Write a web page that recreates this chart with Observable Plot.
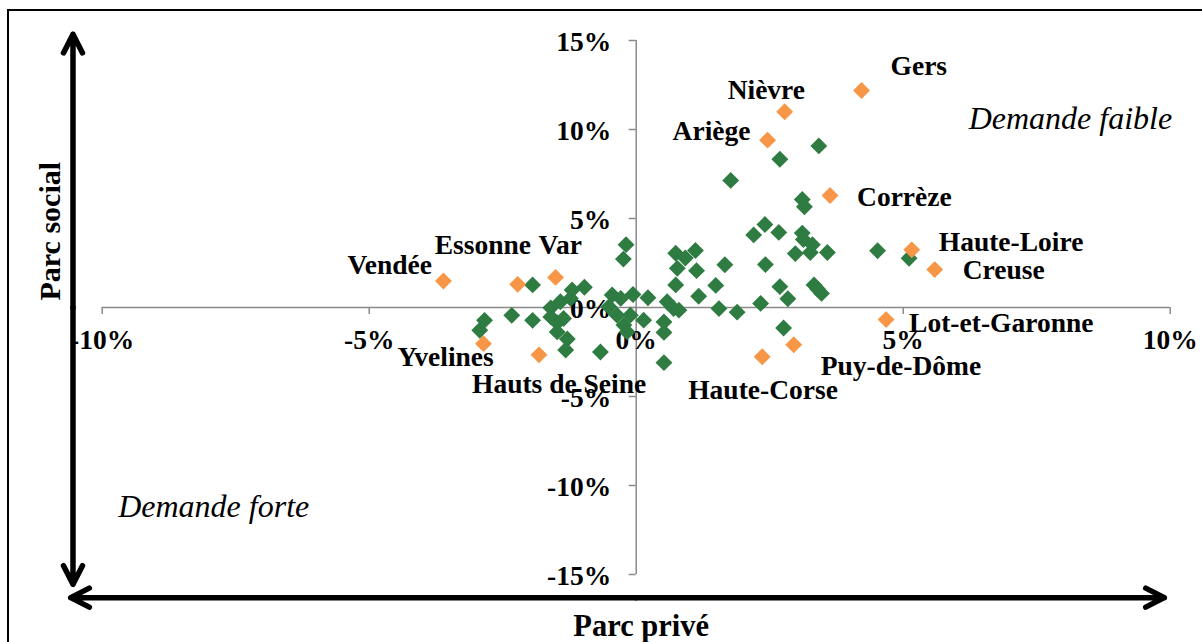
<!DOCTYPE html>
<html><head><meta charset="utf-8">
<script src="https://cdn.jsdelivr.net/npm/d3@7"></script>
<script src="https://cdn.jsdelivr.net/npm/@observablehq/plot@0.6"></script>
<style>
html,body{margin:0;padding:0;background:#fff;overflow:hidden;width:1202px;height:642px;}
#chart{position:absolute;left:0;top:0;}
#frame{position:absolute;left:7px;top:9px;width:1300px;height:700px;border-top:2px solid #000;border-left:2px solid #000;pointer-events:none;}
</style></head><body>
<div id="chart"></div>
<div id="frame"></div>
<script>
// Départements (unlabelled): [parc privé %, parc social %]
const greenPoints = [
  [-1.94,1.27],[-1.20,0.98],[-0.97,1.14],[-1.23,0.51],[-1.42,0.32],[-1.60,-0.02],[-2.33,-0.44],[-1.94,-0.72],
  [-2.84,-0.72],[-2.93,-1.28],[-1.60,-0.53],[-1.48,-0.86],[-1.36,-0.62],[-1.48,-1.37],[-1.29,-1.77],[-1.32,-2.39],
  [-0.67,-2.50],[-0.19,3.53],[-0.24,2.72],[-0.45,0.70],[-0.06,0.73],[-0.51,0.04],[-0.36,-0.43],[-0.23,-0.99],
  [-0.17,-1.37],[-0.11,-0.43],[-0.29,0.51],[0.14,-0.71],[0.22,0.55],[0.52,-3.10],
  [0.74,3.05],[1.11,3.20],[0.92,2.78],[0.77,2.20],[1.13,2.07],[1.66,2.40],[2.20,4.08],[2.67,4.22],
  [2.42,2.41],[2.98,3.03],[0.74,1.27],[1.49,1.24],[1.17,0.63],[0.58,0.32],[0.70,-0.06],[0.80,-0.15],
  [0.52,-0.81],[0.52,-1.40],[1.55,-0.06],[1.89,-0.26],[2.33,0.23],[2.69,1.17],[2.84,0.49],[2.76,-1.15],
  [1.77,7.14],[3.42,9.08],[2.69,8.33],[3.11,6.07],[3.15,5.66],[2.41,4.66],[3.11,4.18],[3.13,3.82],
  [3.30,3.53],[3.26,3.09],[3.58,3.09],[4.52,3.19],[5.11,2.77],[3.33,1.27],[3.47,0.79],[3.40,1.03]
];
// Départements labelled (orange)
const labelNames = ["Gers","Nièvre","Ariège","Corrèze","Haute-Loire","Creuse","Lot-et-Garonne","Puy-de-Dôme","Haute-Corse","Vendée","Essonne","Var","Yvelines","Hauts de Seine"];
const labelX = [4.22,2.78,2.46,3.63,5.16,5.59,4.68,2.95,2.36,-3.61,-2.22,-1.51,-2.86,-1.82];
const labelY = [12.19,11.0,9.40,6.29,3.24,2.13,-0.68,-2.09,-2.77,1.49,1.30,1.69,-2.03,-2.66];
const xTicks = [-10,-5,0,5,10];
const yTicks = [15,10,5,0,-5,-10,-15];

const green = "#2F7C42", orange = "#F79646", axisGray = "#8A8A8A";
const fmt = d => `${d}%`;

const greenData = greenPoints.map(([x, y]) => ({x, y}));
const orangeData = labelNames.map((name, i) => ({name, x: labelX[i], y: labelY[i]}));

// label placement relative to its point (pixels)
const labelOffset = {
  "Gers": [29,-24], "Nièvre": [-57,-22], "Ariège": [-95,-9], "Corrèze": [27,2],
  "Haute-Loire": [27,-8], "Creuse": [28,1], "Lot-et-Garonne": [23,4], "Puy-de-Dôme": [27,21],
  "Haute-Corse": [-74,33], "Vendée": [-96,-16], "Essonne": [-83,-39], "Var": [-17,-32],
  "Yvelines": [-86,14], "Hauts de Seine": [-67,29]
};

// decorative double arrows (axis units, just outside the domain)
const arrows = [
  {x1: -10.547, y1: 0, x2: -10.547, y2: 15.35},
  {x1: -10.547, y1: 0, x2: -10.547, y2: -15.55},
  {x1: 0, y1: -16.3, x2: 9.89, y2: -16.3},
  {x1: 0, y1: -16.3, x2: -10.59, y2: -16.3}
];

const serif = "'Liberation Serif', 'Times New Roman', serif";

const plot = Plot.plot({
  width: 1202, height: 642,
  marginLeft: 101.7, marginRight: 32.3, marginTop: 40, marginBottom: 68,
  x: {domain: [-10, 10], axis: null},
  y: {domain: [-15, 15], axis: null},
  style: {fontFamily: serif, fontSize: "27.5px", fontWeight: "bold", color: "#000", background: "transparent", overflow: "visible"},
  marks: [
    Plot.ruleY([0], {stroke: axisGray, strokeWidth: 1.5}),
    Plot.ruleX([0], {stroke: axisGray, strokeWidth: 1.5}),
    Plot.ruleX(xTicks, {x: d => d, y1: 0, y2: 0, insetBottom: -7, stroke: axisGray, strokeWidth: 1.5}),
    Plot.ruleY(yTicks, {y: d => d, x1: 0, x2: 0, insetLeft: -7, stroke: axisGray, strokeWidth: 1.5}),
    Plot.text(xTicks, {x: d => d, y: 0, text: fmt, dy: 33, lineAnchor: "middle", fill: "#000"}),
    Plot.text(yTicks, {x: 0, y: d => d, text: fmt, dx: -25, dy: 2, textAnchor: "end", lineAnchor: "middle", fill: "#000"}),
    Plot.dot(greenData, {x: "x", y: "y", symbol: "diamond2", r: 7.6, fill: green, stroke: "none"}),
    Plot.dot(orangeData, {x: "x", y: "y", symbol: "diamond2", r: 7.6, fill: orange, stroke: "none"}),
    ...orangeData.map(d => Plot.text([d], {
      x: "x", y: "y", text: "name", textAnchor: "start", lineAnchor: "middle",
      dx: labelOffset[d.name][0], dy: labelOffset[d.name][1], fill: "#000"
    })),
    Plot.arrow(arrows, {x1: "x1", y1: "y1", x2: "x2", y2: "y2", stroke: "#000", strokeWidth: 5.5,
      headLength: 5.7, headAngle: 54, bend: 0, strokeLinecap: "round", strokeLinejoin: "round"}),
    Plot.text(["Demande faible"], {frameAnchor: "top-right", textAnchor: "end", lineAnchor: "middle", dx: 2, dy: 78,
      fontStyle: "italic", fontWeight: "normal", fontSize: 32, fill: "#000"}),
    Plot.text(["Demande forte"], {frameAnchor: "bottom-left", textAnchor: "start", lineAnchor: "middle", dx: 16, dy: -68,
      fontStyle: "italic", fontWeight: "normal", fontSize: 32, fill: "#000"}),
    Plot.text(["Parc social"], {frameAnchor: "left", rotate: -90, lineAnchor: "middle", dx: -52, dy: -7, fontSize: 30, fill: "#000"}),
    Plot.text(["Parc privé"], {frameAnchor: "bottom", lineAnchor: "middle", dx: 5, dy: 52, fontSize: 30.5, fill: "#000"})
  ]
});
document.getElementById("chart").appendChild(plot);
</script>
</body></html>
